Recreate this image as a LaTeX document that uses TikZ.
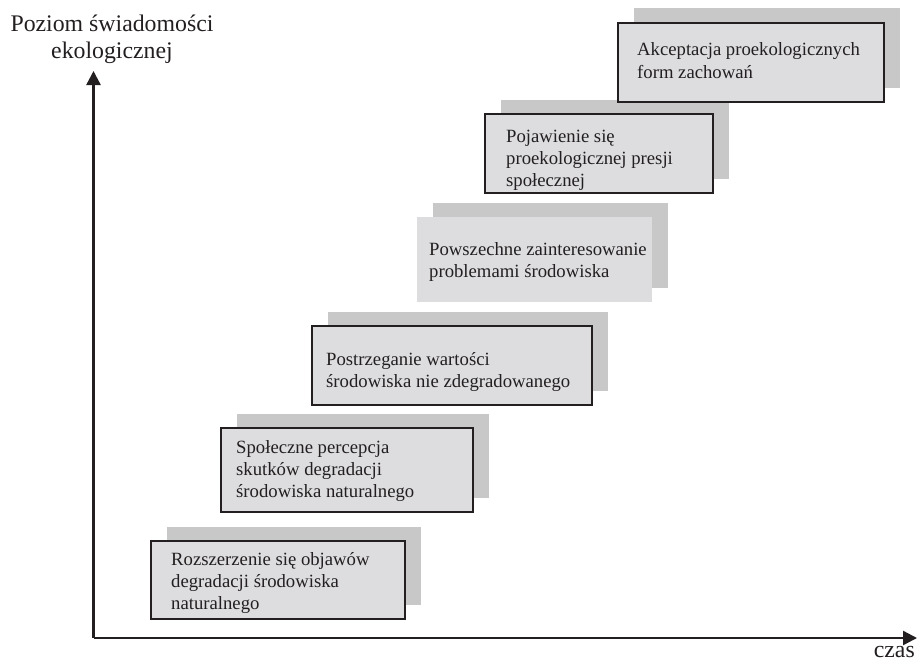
\documentclass[tikz,border=0pt]{standalone}
\usepackage{fontspec}
\setmainfont{Liberation Serif}
\usetikzlibrary{arrows.meta}
\definecolor{inkdark}{RGB}{35,31,32}
\definecolor{frontgray}{RGB}{221,221,223}
\definecolor{shadegray}{RGB}{200,200,201}
\tikzset{
  shadowbox/.style={fill=shadegray, draw=none, inner sep=0pt, outer sep=0pt},
  frontbox/.style={fill=frontgray, draw=inkdark, line width=1.8pt, inner sep=0pt, outer sep=0pt},
  plainbox/.style={fill=frontgray, draw=none, inner sep=0pt, outer sep=0pt},
  boxtext/.style={anchor=base west, inner sep=0pt, align=left, text=inkdark,
    font=\fontsize{18.7}{22.3}\selectfont},
  axislabel/.style={inner sep=0pt, text=inkdark, font=\fontsize{23.8}{27}\selectfont},
  axisline/.style={draw=inkdark, line width=2.3pt, -{Triangle[length=14pt,width=14pt]}}
}
\begin{document}
\begin{tikzpicture}[x=1pt,y=-1pt]
\useasboundingbox (0,0) rectangle (917,661);
% shadows
\node[shadowbox, minimum width=254pt, minimum height=78pt] (s1) at (293.5,565.5) {};
\node[shadowbox, minimum width=252pt, minimum height=84pt] (s2) at (362.5,455.5) {};
\node[shadowbox, minimum width=280pt, minimum height=79pt] (s3) at (467.5,351) {};
\node[shadowbox, minimum width=235pt, minimum height=85pt] (s4) at (550,245) {};
\node[shadowbox, minimum width=228pt, minimum height=79pt] (s5) at (614.5,139) {};
\node[shadowbox, minimum width=266pt, minimum height=79pt] (s6) at (766.5,48) {};
% front boxes
\node[frontbox, minimum width=254pt, minimum height=78pt] (b1) at (278,580) {};
\node[frontbox, minimum width=252pt, minimum height=84pt] (b2) at (347,470) {};
\node[frontbox, minimum width=280pt, minimum height=79pt] (b3) at (452,365.5) {};
\node[plainbox, minimum width=235pt, minimum height=85pt] (b4) at (534.5,259.5) {};
\node[frontbox, minimum width=228pt, minimum height=79pt] (b5) at (599,153.5) {};
\node[frontbox, minimum width=266pt, minimum height=79pt] (b6) at (751,62.5) {};
% texts (anchor = baseline of the last line)
\node[boxtext] (t1) at (171,609.6) {Rozszerzenie się objawów\\degradacji środowiska\\naturalnego};
\node[boxtext] (t2) at (236,497.6) {Społeczne percepcja\\skutków degradacji\\środowiska naturalnego};
\node[boxtext] (t3) at (326,387.3) {Postrzeganie wartości\\środowiska nie zdegradowanego};
\node[boxtext] (t4) at (429,277.3) {Powszechne zainteresowanie\\problemami środowiska};
\node[boxtext] (t5) at (506,186.6) {Pojawienie się\\proekologicznej presji\\społecznej};
\node[boxtext] (t6) at (637,78.3) {Akceptacja proekologicznych\\form zachowań};
% axes
\coordinate (origin) at (93.5,638);
\coordinate (ytip) at (93.5,71);
\coordinate (xtip) at (917,638);
\draw[axisline] (origin) -- (ytip);
\draw[axisline] (origin) -- (xtip);
\node[axislabel, anchor=base, align=center] (ylab) at (112,59) {Poziom świadomości\\ekologicznej};
\node[axislabel, anchor=base east] (xlab) at (915,657.5) {czas};
\end{tikzpicture}
\end{document}
